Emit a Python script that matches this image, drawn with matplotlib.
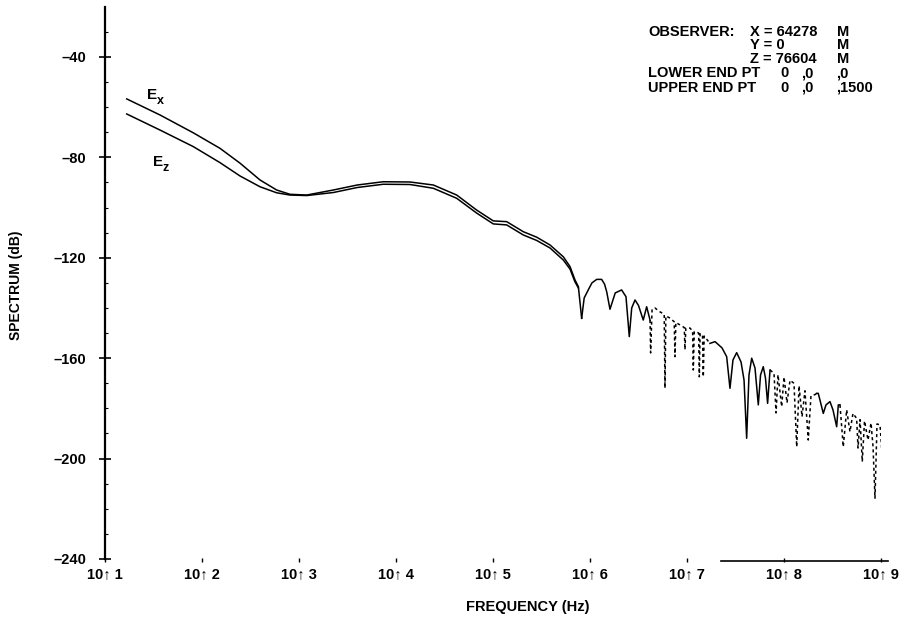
import matplotlib
matplotlib.use("Agg")
import matplotlib.pyplot as plt
import numpy as np

plt.rcParams['font.family'] = ['Liberation Sans', 'DejaVu Sans']
plt.rcParams['font.weight'] = 'bold'

# log10(frequency) and spectrum (dB)
ex_low_dec = [1.224, 1.567, 1.910, 2.186, 2.392, 2.598, 2.770, 2.907, 3.079,
              3.353, 3.600, 3.869, 4.144, 4.385, 4.626, 4.832, 5.003, 5.141,
              5.312, 5.451, 5.588, 5.725, 5.794, 5.845, 5.880, 5.914]
ex_low_db = [-56.7, -63.1, -70.2, -76.4, -82.3, -89.0, -93.0, -94.7, -95.0,
             -93.0, -91.0, -89.7, -89.8, -91.0, -95.0, -101.0, -105.3, -105.6,
             -109.6, -111.8, -114.9, -119.6, -123.5, -128.8, -131.5, -144.1]

ez_low_dec = [1.224, 1.567, 1.910, 2.186, 2.392, 2.598, 2.770, 2.907, 3.079,
              3.353, 3.600, 3.869, 4.144, 4.385, 4.626, 4.832, 5.003, 5.141,
              5.312, 5.451, 5.588, 5.725, 5.794, 5.845, 5.880]
ez_low_db = [-62.7, -69.1, -75.7, -82.1, -87.4, -91.7, -94.1, -95.0, -95.2,
             -94.0, -92.0, -90.7, -90.8, -92.3, -96.3, -102.2, -106.5, -106.9,
             -110.9, -113.1, -116.1, -120.9, -124.5, -129.6, -132.0]

# high frequency part: arches (solid) and fast ripple (broken)
arch1_dec = [5.914, 5.940, 5.982, 6.020, 6.069, 6.120, 6.150, 6.172, 6.206,
             6.260, 6.326, 6.371, 6.405, 6.430, 6.464, 6.500, 6.549, 6.584, 6.619]
arch1_db = [-144.1, -136.0, -132.8, -130.0, -128.6, -128.6, -130.5, -133.5, -140.5,
            -134.0, -132.8, -135.5, -151.4, -140.0, -136.8, -139.0, -144.8, -139.5, -144.8]

ripple1_dec = [6.619, 6.625, 6.640, 6.670, 6.720, 6.765, 6.773, 6.782, 6.825,
               6.868, 6.876, 6.885, 6.940, 6.972, 6.979, 6.988, 7.031, 7.058,
               7.065, 7.075, 7.103, 7.120, 7.127, 7.135, 7.160, 7.168, 7.177, 7.237]
ripple1_db = [-144.8, -157.9, -140.5, -140.0, -141.5, -142.5, -171.9, -143.2, -144.0,
              -145.5, -159.4, -145.8, -147.0, -147.8, -156.6, -148.0, -148.0, -149.2,
              -164.7, -149.4, -149.6, -150.0, -167.4, -150.2, -150.8, -167.4, -151.2, -154.1]

arch2_dec = [7.237, 7.289, 7.361, 7.409, 7.443, 7.474, 7.512, 7.557, 7.588, 7.615,
             7.639, 7.667, 7.701, 7.735, 7.758, 7.786, 7.809, 7.831, 7.856]
arch2_db = [-154.1, -153.4, -155.9, -159.4, -172.0, -160.7, -157.8, -161.5, -168.7, -191.9,
            -166.7, -160.0, -163.9, -178.6, -166.7, -163.4, -167.9, -178.0, -164.7]

ripple2_dec = [7.856, 7.897, 7.918, 7.938, 7.976, 8.000, 8.031, 8.062, 8.103,
               8.131, 8.155, 8.186, 8.216, 8.250, 8.278, 8.320, 8.337]
ripple2_db = [-164.7, -166.0, -181.8, -166.6, -179.3, -167.5, -177.8, -168.8, -170.0,
              -195.3, -171.0, -183.3, -173.0, -192.6, -175.0, -174.5, -174.0]

arch3_dec = [8.337, 8.353, 8.371, 8.405, 8.433, 8.474, 8.505, 8.543, 8.560, 8.577]
arch3_db = [-174.0, -174.0, -176.7, -182.0, -178.6, -177.3, -180.6, -187.3, -178.6, -178.6]

ripple3_dec = [8.577, 8.611, 8.646, 8.680, 8.711, 8.749, 8.763, 8.784, 8.807,
               8.830, 8.866, 8.897, 8.918, 8.938, 8.959, 8.990, 9.007]
ripple3_db = [-178.6, -195.3, -180.6, -189.3, -182.0, -184.0, -195.8, -184.5, -201.2,
              -185.0, -192.6, -185.8, -195.3, -215.8, -186.2, -186.6, -195.9]

floor_dec = [7.35, 9.07]
floor_db = [-241.0, -241.0]

xtick_dec = [1, 2, 3, 4, 5, 6, 7, 8, 9]
ytick_db = [-40, -80, -120, -160, -200, -240]

observer = [("OBSERVER:", "X = 64278", "M"),
            ("", "Y = 0", "M"),
            ("", "Z = 76604", "M")]
end_pts = [("LOWER END PT", "0", ",0", ",0"),
           ("UPPER END PT", "0", ",0", ",1500")]

W, H = 907, 621
fig = plt.figure(figsize=(W / 100, H / 100), dpi=100)
ax = fig.add_axes([105 / W, (H - 562) / H, 776 / W, (562 - 6.8) / H])


def hz(dec):
    return 10.0 ** np.asarray(dec)


lw = 1.1
ax.plot(hz(ex_low_dec), ex_low_db, color='black', lw=lw)
ax.plot(hz(ez_low_dec), ez_low_db, color='black', lw=lw)
for d, v in [(arch1_dec, arch1_db), (arch2_dec, arch2_db), (arch3_dec, arch3_db)]:
    ax.plot(hz(d), v, color='black', lw=lw)
for d, v in [(ripple1_dec, ripple1_db), (ripple2_dec, ripple2_db), (ripple3_dec, ripple3_db)]:
    ax.plot(hz(d), v, color='black', lw=1.1, ls=(0, (2, 2)))
ax.plot(hz(floor_dec), floor_db, color='black', lw=1.2, clip_on=False)

ax.set_xscale('log')
ax.set_xlim(10 ** 1, 10 ** 9)
ax.set_ylim(-241.2, -20)

for s in ['top', 'right', 'bottom']:
    ax.spines[s].set_visible(False)
ax.spines['left'].set_linewidth(1.6)
ax.spines['left'].set_bounds(-240, -20)

ax.set_xticks(hz(xtick_dec))
ax.set_xticklabels(['10\u2191 %d' % d for d in xtick_dec])
ax.xaxis.set_minor_locator(matplotlib.ticker.NullLocator())
ax.tick_params(axis='x', direction='in', length=3, width=1, pad=4, labelsize=10.5)

ax.set_yticks(ytick_db)
ax.set_yticklabels(['\u2013%d' % abs(v) for v in ytick_db])
ax.set_yticks(np.arange(-230, -20, 10), minor=True)
ax.tick_params(axis='y', which='major', direction='inout', length=9, width=1.2,
               pad=9, labelsize=10.5)
ax.tick_params(axis='y', which='minor', direction='in', length=2, width=0.8)

# curve labels, E with a subscript
ax.text(hz(1.433), -55.1, 'E', fontsize=11, va='center', ha='left')
ax.text(hz(1.535), -57.4, 'x', fontsize=9, va='center', ha='left')
ax.text(hz(1.495), -81.8, 'E', fontsize=11, va='center', ha='left')
ax.text(hz(1.597), -84.1, 'z', fontsize=9, va='center', ha='left')

fig.text(16 / W, 1 - 285 / H, 'SPECTRUM (dB)', rotation=90, ha='center', va='center',
         fontsize=10)
fig.text(528 / W, 1 - 607 / H, 'FREQUENCY (Hz)', ha='center', va='center', fontsize=10.5)

row_y = [31.7, 45.3, 59.3, 73.3, 87.7]
fs = 10.5
for i, (a, b, c) in enumerate(observer):
    y = 1 - row_y[i] / H
    fig.text(648 / W, y, a, va='center', fontsize=fs)
    fig.text(750 / W, y, b, va='center', fontsize=fs)
    fig.text(837 / W, y, c, va='center', fontsize=fs)
for i, (a, b, c, d) in enumerate(end_pts):
    y = 1 - row_y[i + 3] / H
    fig.text(648 / W, y, a, va='center', fontsize=fs)
    fig.text(780 / W, y, b, va='center', fontsize=fs)
    fig.text(801 / W, y, c, va='center', fontsize=fs)
    fig.text(836 / W, y, d, va='center', fontsize=fs)

fig.savefig('out.png', dpi=100)
